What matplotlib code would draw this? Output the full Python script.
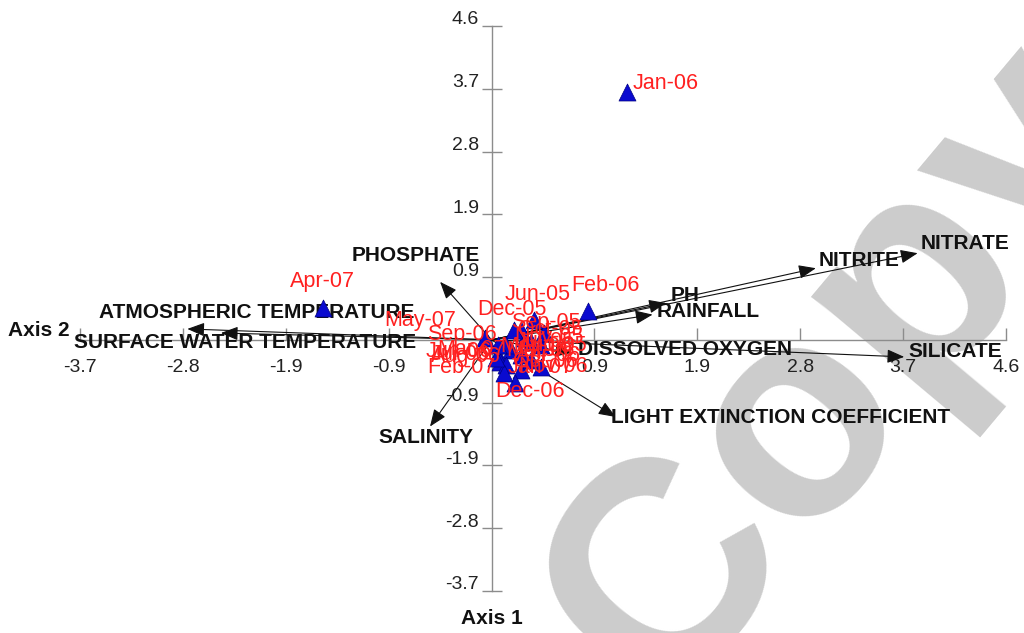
import matplotlib
matplotlib.use('Agg')
import matplotlib.pyplot as plt
from matplotlib.transforms import ScaledTranslation

plt.rcParams['font.family'] = ['Liberation Sans', 'DejaVu Sans']

# sampling months (site scores)
months = ['Jun-05', 'Jul-05', 'Aug-05', 'Sep-05', 'Oct-05', 'Nov-05', 'Dec-05',
          'Jan-06', 'Feb-06', 'Mar-06', 'Apr-06', 'May-06', 'Jun-06', 'Jul-06',
          'Aug-06', 'Sep-06', 'Oct-06', 'Nov-06', 'Dec-06', 'Jan-07', 'Feb-07',
          'Mar-07', 'Apr-07', 'May-07']
score_x = [0.38, 0.30, 0.44, 0.47, 0.26, 0.35, 0.20, 1.21, 0.86, 0.17, 0.26, 0.13,
           0.06, 0.08, 0.13, 0.06, 0.26, 0.44, 0.21, 0.35, 0.11, 0.04, -1.51, -0.06]
score_y = [0.29, 0.03, -0.07, 0.10, 0.15, -0.03, 0.15, 3.63, 0.42, -0.15, -0.22, -0.07,
           -0.22, -0.32, -0.37, -0.07, -0.44, -0.40, -0.63, -0.29, -0.48, -0.26, 0.47, 0.03]

# environmental variables (biplot arrows)
variables = ['NITRATE', 'NITRITE', 'PH', 'RAINFALL', 'SILICATE', 'DISSOLVED OXYGEN',
             'LIGHT EXTINCTION COEFFICIENT', 'SALINITY', 'PHOSPHATE',
             'ATMOSPHERIC TEMPERATURE', 'SURFACE WATER TEMPERATURE']
var_x = [3.81, 2.90, 1.56, 1.44, 3.69, 0.72, 1.11, -0.55, -0.46, -2.72, -2.42]
var_y = [1.27, 1.05, 0.54, 0.37, -0.25, -0.19, -1.13, -1.27, 0.85, 0.16, 0.10]

tick_vals = [-3.68, -2.76, -1.84, -0.92, 0.92, 1.84, 2.76, 3.68, 4.6]
tick_labels = ['-3.7', '-2.8', '-1.9', '-0.9', '0.9', '1.9', '2.8', '3.7', '4.6']

# label placement (pixel offsets from the point / arrow tip, alignment)
month_off = {
    'Jan-06': (39, 9), 'Apr-07': (0, 26), 'Feb-06': (18, 26), 'Jun-05': (4, 26),
    'Dec-05': (-2, 20), 'May-07': (-65, 17), 'Sep-06': (-36, 10), 'Feb-07': (-42, 5),
    'Dec-06': (15, -9), 'Jun-06': (-40, 3), 'Jul-06': (-40, 7), 'Aug-06': (-40, 9),
    'Mar-07': (-25, 8), 'Sep-05': (2, 11), 'Oct-05': (30, 0), 'Nov-05': (18, 4),
    'Jul-05': (20, -4), 'Aug-05': (12, -1), 'Mar-06': (30, 0), 'Apr-06': (28, -1),
    'May-06': (30, -2), 'Oct-06': (25, 8), 'Nov-06': (12, 1), 'Jan-07': (10, -8),
}
var_off = {
    'NITRATE': (3, 10, 'left'), 'NITRITE': (3, 8, 'left'), 'PH': (5, 8, 'left'),
    'RAINFALL': (4, 3, 'left'), 'SILICATE': (4, 5, 'left'),
    'DISSOLVED OXYGEN': (6, 3, 'left'),
    'LIGHT EXTINCTION COEFFICIENT': (-5, -1, 'left'),
    'SALINITY': (-4, -11, 'center'), 'PHOSPHATE': (-24, 26, 'center'),
    'ATMOSPHERIC TEMPERATURE': (69, 16, 'center'),
    'SURFACE WATER TEMPERATURE': (24, -9, 'center'),
}

fig = plt.figure(figsize=(10.24, 6.33), dpi=100)
ax = fig.add_axes([0.0781, 0.0664, 0.9043, 0.8926])
ax.set_xlim(-3.68, 4.6)
ax.set_ylim(-3.68, 4.6)

# watermark, behind everything
ax.text(0.879, 0.333, 'Copy', transform=fig.transFigure, fontsize=215,
        fontweight='bold', color='#cccccc', rotation=50, rotation_mode='anchor',
        ha='center', va='baseline', zorder=0, clip_on=False)

for s in ['top', 'right']:
    ax.spines[s].set_visible(False)
for s in ['left', 'bottom']:
    ax.spines[s].set_position('zero')
    ax.spines[s].set_color('#8c8c8c')
    ax.spines[s].set_linewidth(1.0)

ax.set_xticks(tick_vals)
ax.set_xticklabels(tick_labels)
ax.set_yticks(tick_vals)
ax.set_yticklabels(tick_labels)
ax.tick_params(axis='x', direction='in', length=9, width=1, color='#8c8c8c',
               labelsize=14, pad=14, labelcolor='#222222')
ax.tick_params(axis='y', direction='inout', length=14, width=1, color='#8c8c8c',
               labelsize=14, pad=2, labelcolor='#222222')
for lab in ax.get_yticklabels():
    lab.set_transform(lab.get_transform() + ScaledTranslation(0, 8 / 100, fig.dpi_scale_trans))

# arrows
for name, vx, vy in zip(variables, var_x, var_y):
    ax.annotate('', xy=(vx, vy), xytext=(0, 0),
                arrowprops=dict(arrowstyle='-|>,head_length=0.7,head_width=0.28',
                                mutation_scale=15, color='#111111', lw=0.8,
                                shrinkA=0, shrinkB=0), zorder=3)
    dx, dy, ha = var_off[name]
    ax.annotate(name, xy=(vx, vy), xytext=(dx, dy), textcoords='offset pixels',
                ha=ha, va='center', fontsize=15, fontweight='bold', color='#111111',
                annotation_clip=False, zorder=4)

# sample points
ax.scatter(score_x, score_y, marker='^', s=150, color='#0a0ad0', edgecolors='#000080',
           linewidths=0.5, zorder=5, clip_on=False)
for m, sx, sy in zip(months, score_x, score_y):
    dx, dy = month_off[m]
    ax.annotate(m, xy=(sx, sy), xytext=(dx, dy), textcoords='offset pixels',
                ha='center', va='center', fontsize=15.5, color='#ff2020',
                annotation_clip=False, zorder=6)

fig.text(8 / 1024, 1 - 331 / 633, 'Axis 2', fontsize=15, fontweight='bold',
         ha='left', va='center', color='#111111')
fig.text(492 / 1024, 1 - 618 / 633, 'Axis 1', fontsize=15, fontweight='bold',
         ha='center', va='center', color='#111111')

fig.savefig('out.png', dpi=100)
